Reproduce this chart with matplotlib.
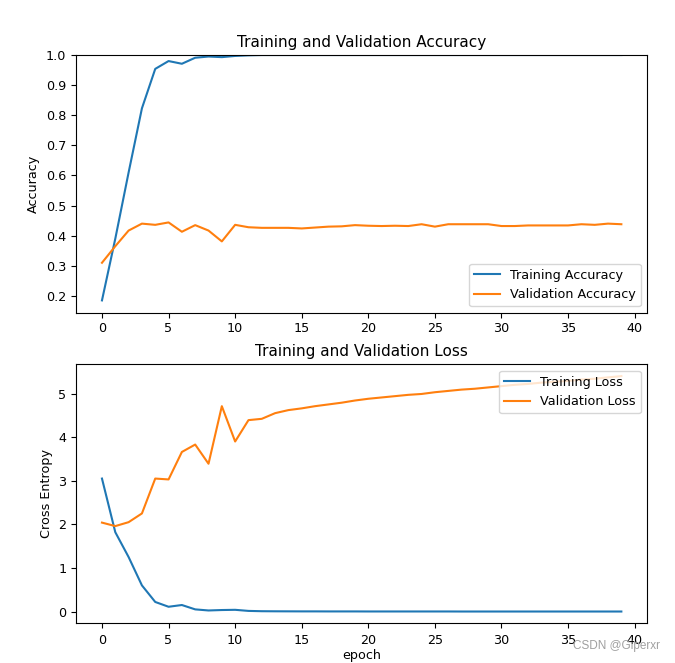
import matplotlib
matplotlib.use("Agg")
import matplotlib.pyplot as plt

# epochs 0..39
epochs = list(range(40))

acc = [0.185, 0.39, 0.61, 0.823, 0.954, 0.980, 0.971, 0.991, 0.995, 0.993,
       0.997, 0.999, 1.0, 1.0, 1.0, 1.0, 1.0, 1.0, 1.0, 1.0,
       1.0, 1.0, 1.0, 1.0, 1.0, 1.0, 1.0, 1.0, 1.0, 1.0,
       1.0, 1.0, 1.0, 1.0, 1.0, 1.0, 1.0, 1.0, 1.0, 1.0]
val_acc = [0.310, 0.365, 0.417, 0.440, 0.436, 0.444, 0.413, 0.435, 0.417, 0.381,
           0.436, 0.428, 0.426, 0.426, 0.426, 0.424, 0.427, 0.430, 0.431, 0.435,
           0.433, 0.432, 0.433, 0.432, 0.438, 0.430, 0.438, 0.438, 0.438, 0.438,
           0.432, 0.432, 0.434, 0.434, 0.434, 0.434, 0.438, 0.436, 0.440, 0.438]

loss = [3.05, 1.82, 1.25, 0.60, 0.22, 0.11, 0.15, 0.05, 0.025, 0.035,
        0.04, 0.015, 0.008, 0.006, 0.005, 0.004, 0.004, 0.003, 0.003, 0.003,
        0.002, 0.002, 0.002, 0.002, 0.002, 0.002, 0.002, 0.001, 0.001, 0.001,
        0.001, 0.001, 0.001, 0.001, 0.001, 0.001, 0.001, 0.001, 0.001, 0.001]
val_loss = [2.04, 1.96, 2.05, 2.25, 3.05, 3.03, 3.66, 3.83, 3.39, 4.71,
            3.90, 4.39, 4.42, 4.55, 4.62, 4.66, 4.71, 4.75, 4.79, 4.84,
            4.88, 4.91, 4.94, 4.97, 4.99, 5.03, 5.06, 5.09, 5.11, 5.14,
            5.17, 5.20, 5.22, 5.25, 5.27, 5.29, 5.32, 5.34, 5.37, 5.40]

plt.rcParams['font.size'] = 9.2

fig = plt.figure(figsize=(6.75, 6.63), dpi=100)

ax1 = fig.add_axes([0.1126, 0.5284, 0.959 - 0.1126, 0.917 - 0.5284])
ax1.plot(epochs, acc, label='Training Accuracy')
ax1.plot(epochs, val_acc, label='Validation Accuracy')
ax1.legend(loc='lower right')
ax1.set_ylabel('Accuracy')
ax1.set_ylim([min(ax1.get_ylim()), 1])
ax1.set_title('Training and Validation Accuracy', fontsize=11)

ax2 = fig.add_axes([0.1126, 0.0599, 0.959 - 0.1126, 0.4505 - 0.0599])
ax2.plot(epochs, loss, label='Training Loss')
ax2.plot(epochs, val_loss, label='Validation Loss')
ax2.legend(loc='upper right')
ax2.set_ylabel('Cross Entropy')
ax2.set_title('Training and Validation Loss', fontsize=11)
ax2.set_xlabel('epoch', labelpad=1)
ax2.tick_params(axis='x', pad=4.5)

fig.text(0.978, 0.026, 'CSDN @Giperxr', ha='right', va='center',
         fontsize=8.5, color='#a0a0a0', family='Liberation Sans')

fig.savefig('out.png', dpi=100)
